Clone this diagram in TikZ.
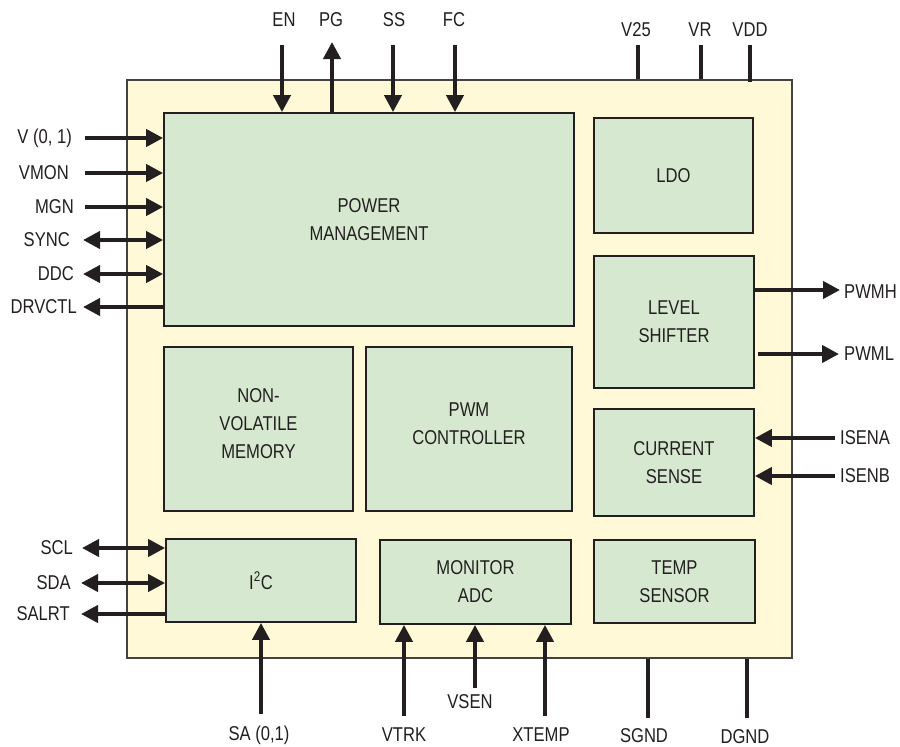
\documentclass[tikz,border=0pt]{standalone}
\usepackage{fontspec}
\setmainfont{Liberation Sans}[FakeStretch=0.83]
\usetikzlibrary{arrows.meta}
\definecolor{chip}{RGB}{255,249,216}
\definecolor{blk}{RGB}{214,232,207}
\definecolor{ink}{RGB}{35,31,32}
\begin{document}
\begin{tikzpicture}[x=1pt,y=-1pt,
  chipbox/.style={draw=ink!85, line width=1.6pt, fill=chip, inner sep=0pt},
  blockbox/.style={draw=ink, line width=1.8pt, fill=blk, inner sep=0pt, align=center,
    font=\fontsize{20}{28}\selectfont, text=ink},
  lbl/.style={font=\fontsize{20}{23}\selectfont, text=ink, inner sep=0pt},
  sig/.style={line width=4pt, draw=ink, -{Triangle[length=17pt,width=17pt]}},
  bsig/.style={line width=4pt, draw=ink, {Triangle[length=17pt,width=17pt]}-{Triangle[length=17pt,width=17pt]}},
  pinline/.style={line width=4pt, draw=ink}]
\useasboundingbox (0,0) rectangle (900,747);
\fill[white] (0,0) rectangle (900,747);

% chip outline
\node[chipbox, minimum width=665pt, minimum height=578pt] (chip) at (459.5,369) {};

% blocks
\node[blockbox, minimum width=410pt, minimum height=213pt] (pm) at (369,219.5) {POWER\\MANAGEMENT};
\node[blockbox, minimum width=159pt, minimum height=115pt] (ldo) at (673.5,175.5) {LDO};
\node[blockbox, minimum width=160pt, minimum height=132pt] (ls) at (674,322) {LEVEL\\SHIFTER};
\node[blockbox, minimum width=160pt, minimum height=107pt] (cs) at (674,462.5) {CURRENT\\SENSE};
\node[blockbox, minimum width=161pt, minimum height=83pt] (ts) at (674.5,581.5) {TEMP\\SENSOR};
\node[blockbox, minimum width=189pt, minimum height=164pt] (nvm) at (258.5,429) {NON-\\VOLATILE\\MEMORY\\[-18pt]};
\node[blockbox, minimum width=206pt, minimum height=164pt] (pwm) at (469,429) {PWM\\CONTROLLER\\[-18pt]};
\node[blockbox, minimum width=190pt, minimum height=83pt] (i2c) at (261,580.5) {I\textsuperscript{2}C};
\node[blockbox, minimum width=191pt, minimum height=84pt] (adc) at (475.5,582) {MONITOR\\ADC};

% left labels (power management)
\node[lbl, anchor=east] (lv01) at (72,138) {V (0, 1)};
\node[lbl, anchor=east] (lvmon) at (69,173) {VMON};
\node[lbl, anchor=east] (lmgn) at (74,207) {MGN};
\node[lbl, anchor=east] (lsync) at (70,240) {SYNC};
\node[lbl, anchor=east] (lddc) at (74,274) {DDC};
\node[lbl, anchor=east] (ldrv) at (77,307) {DRVCTL};
\coordinate (cv01) at (85,138);
\coordinate (cvmon) at (85,173);
\coordinate (cmgn) at (85,207);
\coordinate (csync) at (83,240);
\coordinate (cddc) at (83,274);
\coordinate (cdrv) at (83,307);
\draw[sig] (cv01) -- (cv01 -| pm.west);
\draw[sig] (cvmon) -- (cvmon -| pm.west);
\draw[sig] (cmgn) -- (cmgn -| pm.west);
\draw[bsig] (csync) -- (csync -| pm.west);
\draw[bsig] (cddc) -- (cddc -| pm.west);
\draw[sig] (cdrv -| pm.west) -- (cdrv);

% top labels
\node[lbl] (len) at (284,20) {EN};
\node[lbl] (lpg) at (331,20) {PG};
\node[lbl] (lss) at (394,20) {SS};
\node[lbl] (lfc) at (454,20) {FC};
\node[lbl] (lv25) at (636,30) {V25};
\node[lbl] (lvr) at (700,30) {VR};
\node[lbl] (lvdd) at (750,30) {VDD};
\coordinate (cen) at (282,45);
\coordinate (cpg) at (332,42);
\coordinate (css) at (393,45);
\coordinate (cfc) at (455,45);
\coordinate (cv25) at (638,45);
\coordinate (cvr) at (701,45);
\coordinate (cvdd) at (750,45);
\draw[sig] (cen) -- (cen |- pm.north);
\draw[sig] (cpg |- pm.north) -- (cpg);
\draw[sig] (css) -- (css |- pm.north);
\draw[sig] (cfc) -- (cfc |- pm.north);
\draw[pinline] (cv25) -- (cv25 |- chip.north);
\draw[pinline] (cvr) -- (cvr |- chip.north);
\draw[pinline] (cvdd) -- ([yshift=-3pt]cvdd |- chip.north);

% right side
\node[lbl, anchor=west] (lpwmh) at (844,292) {PWMH};
\node[lbl, anchor=west] (lpwml) at (844,354) {PWML};
\node[lbl, anchor=west] (lisa) at (840,438) {ISENA};
\node[lbl, anchor=west] (lisb) at (840,476) {ISENB};
\coordinate (cpwmh) at (840,290);
\coordinate (cpwml) at (839,354);
\coordinate (cisa) at (835,438);
\coordinate (cisb) at (835,476);
\draw[sig] (cpwmh -| ls.east) -- (cpwmh);
\draw[sig] ([xshift=3pt]cpwml -| ls.east) -- (cpwml);
\draw[sig] (cisa) -- (cisa -| cs.east);
\draw[sig] (cisb) -- (cisb -| cs.east);

% I2C left
\node[lbl, anchor=east] (lscl) at (73,548) {SCL};
\node[lbl, anchor=east] (lsda) at (71,583) {SDA};
\node[lbl, anchor=east] (lsalrt) at (70,614) {SALRT};
\coordinate (cscl) at (82,548);
\coordinate (csda) at (81,583);
\coordinate (csalrt) at (81,614);
\draw[bsig] (cscl) -- (cscl -| i2c.west);
\draw[bsig] (csda) -- (csda -| i2c.west);
\draw[sig] (csalrt -| i2c.west) -- (csalrt);

% bottom
\node[lbl] (lsa) at (259,735) {SA (0,1)};
\node[lbl] (lvtrk) at (404,735) {VTRK};
\node[lbl] (lvsen) at (470,702) {VSEN};
\node[lbl] (lxtemp) at (541,735) {XTEMP};
\node[lbl] (lsgnd) at (644,736) {SGND};
\node[lbl] (ldgnd) at (745,737) {DGND};
\coordinate (csa) at (261,714);
\coordinate (cvtrk) at (404,716);
\coordinate (cvsen) at (475,688);
\coordinate (cxtemp) at (545,716);
\coordinate (csgnd) at (648,718);
\coordinate (cdgnd) at (747,718);
\draw[sig] (csa) -- (csa |- i2c.south);
\draw[sig] (cvtrk) -- (cvtrk |- adc.south);
\draw[sig] (cvsen) -- (cvsen |- adc.south);
\draw[sig] (cxtemp) -- (cxtemp |- adc.south);
\draw[pinline] (csgnd |- chip.south) -- (csgnd);
\draw[pinline] (cdgnd |- chip.south) -- (cdgnd);
\end{tikzpicture}
\end{document}
